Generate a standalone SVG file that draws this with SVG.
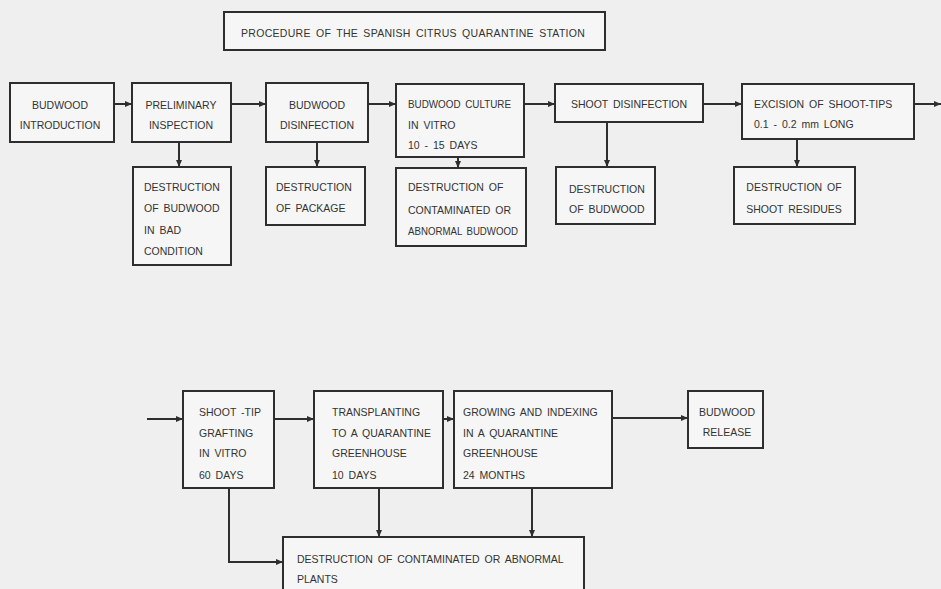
<svg xmlns="http://www.w3.org/2000/svg" width="941" height="589" viewBox="0 0 941 589">
<style>
.bg{fill:#efefef}
.box{fill:#f6f6f6;stroke:#2e2e2e;stroke-width:2}
.t{font-family:"Liberation Sans",Arial,sans-serif;font-size:10.5px;letter-spacing:0px;word-spacing:2px;fill:#333}
.ti{letter-spacing:0.3px}
.c{text-anchor:middle}
.ln{fill:none;stroke:#2e2e2e;stroke-width:2}
</style>
<defs>
<marker id="ah" markerUnits="userSpaceOnUse" markerWidth="8" markerHeight="8" refX="7" refY="3" orient="auto">
<path d="M0,0 L7,3 L0,6 z" fill="#2e2e2e"/>
</marker>
</defs>
<rect class="bg" x="0" y="0" width="941" height="589"/>

<g id="title">
<rect class="box" x="224" y="12" width="381" height="38"/>
<text class="t ti" x="241" y="37">PROCEDURE OF THE SPANISH CITRUS QUARANTINE STATION</text>
</g>

<g id="connectors">
<line class="ln" x1="114" y1="104" x2="132" y2="104" marker-end="url(#ah)"/>
<line class="ln" x1="231" y1="104" x2="266" y2="104" marker-end="url(#ah)"/>
<line class="ln" x1="368" y1="104" x2="396" y2="104" marker-end="url(#ah)"/>
<line class="ln" x1="524" y1="104" x2="555" y2="104" marker-end="url(#ah)"/>
<line class="ln" x1="703" y1="104" x2="742" y2="104" marker-end="url(#ah)"/>
<line class="ln" x1="914" y1="104" x2="941" y2="104" marker-end="url(#ah)"/>
<line class="ln" x1="179" y1="142" x2="179" y2="167" marker-end="url(#ah)"/>
<line class="ln" x1="317" y1="142" x2="317" y2="167" marker-end="url(#ah)"/>
<line class="ln" x1="458" y1="157" x2="458" y2="168" marker-end="url(#ah)"/>
<line class="ln" x1="607" y1="122" x2="607" y2="167" marker-end="url(#ah)"/>
<line class="ln" x1="797" y1="139" x2="797" y2="167" marker-end="url(#ah)"/>
<line class="ln" x1="147" y1="419" x2="183" y2="419" marker-end="url(#ah)"/>
<line class="ln" x1="274" y1="419" x2="314" y2="419" marker-end="url(#ah)"/>
<line class="ln" x1="443" y1="419" x2="454" y2="419" marker-end="url(#ah)"/>
<line class="ln" x1="612" y1="418" x2="688" y2="418" marker-end="url(#ah)"/>
<line class="ln" x1="379" y1="488" x2="379" y2="537" marker-end="url(#ah)"/>
<line class="ln" x1="532" y1="488" x2="532" y2="537" marker-end="url(#ah)"/>
<polyline class="ln" points="229,488 229,562 283,562" marker-end="url(#ah)"/>
</g>

<g id="n1">
<rect class="box" x="10" y="83" width="104" height="59"/>
<text class="t c" x="60" y="109">BUDWOOD</text>
<text class="t c" x="60" y="129">INTRODUCTION</text>
</g>
<g id="n2">
<rect class="box" x="132" y="83" width="99" height="59"/>
<text class="t c" x="181" y="109">PRELIMINARY</text>
<text class="t c" x="181" y="129">INSPECTION</text>
</g>
<g id="n3">
<rect class="box" x="266" y="83" width="102" height="59"/>
<text class="t c" x="317" y="109">BUDWOOD</text>
<text class="t c" x="317" y="129">DISINFECTION</text>
</g>
<g id="n4">
<rect class="box" x="396" y="84" width="128" height="73"/>
<text class="t" x="408" y="108" textLength="103" lengthAdjust="spacingAndGlyphs">BUDWOOD CULTURE</text>
<text class="t" x="408" y="129">IN VITRO</text>
<text class="t" x="408" y="149">10 - 15 DAYS</text>
</g>
<g id="n5">
<rect class="box" x="555" y="84" width="148" height="38"/>
<text class="t c" x="629" y="108">SHOOT DISINFECTION</text>
</g>
<g id="n6">
<rect class="box" x="742" y="84" width="172" height="55"/>
<text class="t" x="754" y="108">EXCISION OF SHOOT-TIPS</text>
<text class="t" x="754" y="128">0.1 - 0.2 mm LONG</text>
</g>

<g id="d1">
<rect class="box" x="133" y="167" width="98" height="98"/>
<text class="t" x="144" y="191">DESTRUCTION</text>
<text class="t" x="144" y="212">OF BUDWOOD</text>
<text class="t" x="144" y="234">IN BAD</text>
<text class="t" x="144" y="255">CONDITION</text>
</g>
<g id="d2">
<rect class="box" x="266" y="167" width="99" height="58"/>
<text class="t" x="276" y="191">DESTRUCTION</text>
<text class="t" x="276" y="212">OF PACKAGE</text>
</g>
<g id="d3">
<rect class="box" x="396" y="168" width="130" height="78"/>
<text class="t" x="408" y="191">DESTRUCTION OF</text>
<text class="t" x="408" y="214">CONTAMINATED OR</text>
<text class="t" x="408" y="235" textLength="110" lengthAdjust="spacingAndGlyphs">ABNORMAL BUDWOOD</text>
</g>
<g id="d4">
<rect class="box" x="556" y="167" width="99" height="57"/>
<text class="t" x="569" y="193">DESTRUCTION</text>
<text class="t" x="569" y="213">OF BUDWOOD</text>
</g>
<g id="d5">
<rect class="box" x="734" y="167" width="121" height="57"/>
<text class="t c" x="794" y="191">DESTRUCTION OF</text>
<text class="t c" x="794" y="213">SHOOT RESIDUES</text>
</g>

<g id="n7">
<rect class="box" x="183" y="391" width="91" height="97"/>
<text class="t" x="199" y="416">SHOOT -TIP</text>
<text class="t" x="199" y="437">GRAFTING</text>
<text class="t" x="199" y="457">IN VITRO</text>
<text class="t" x="199" y="479">60 DAYS</text>
</g>
<g id="n8">
<rect class="box" x="314" y="391" width="129" height="97"/>
<text class="t" x="332" y="416">TRANSPLANTING</text>
<text class="t" x="332" y="437">TO A QUARANTINE</text>
<text class="t" x="332" y="457">GREENHOUSE</text>
<text class="t" x="332" y="479">10 DAYS</text>
</g>
<g id="n9">
<rect class="box" x="454" y="391" width="158" height="97"/>
<text class="t" x="463" y="416">GROWING AND INDEXING</text>
<text class="t" x="463" y="437">IN A QUARANTINE</text>
<text class="t" x="463" y="457">GREENHOUSE</text>
<text class="t" x="463" y="479">24 MONTHS</text>
</g>
<g id="n10">
<rect class="box" x="688" y="391" width="75" height="57"/>
<text class="t c" x="727" y="416">BUDWOOD</text>
<text class="t c" x="727" y="436">RELEASE</text>
</g>
<g id="d6">
<rect class="box" x="283" y="537" width="301" height="70"/>
<text class="t" x="297" y="563">DESTRUCTION OF CONTAMINATED OR ABNORMAL</text>
<text class="t" x="297" y="583">PLANTS</text>
</g>
</svg>
